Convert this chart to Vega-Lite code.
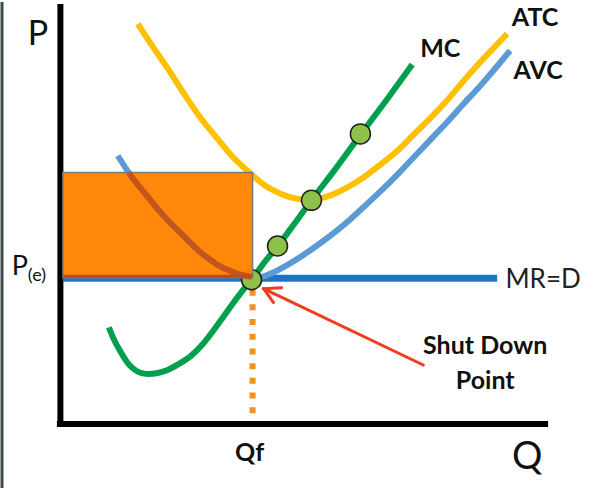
{
  "$schema": "https://vega.github.io/schema/vega-lite/v6.json",
  "width": 595,
  "height": 490,
  "autosize": {"type": "fit", "contains": "padding"},
  "padding": 0,
  "background": "white",
  "config": {"view": {"stroke": null}, "font": "Lato"},
  "datasets": {
    "curves": [
      {"curve": "ATC", "x": 137, "y": 468}, {"curve": "ATC", "x": 152, "y": 445}, {"curve": "ATC", "x": 167, "y": 423},
      {"curve": "ATC", "x": 183, "y": 398}, {"curve": "ATC", "x": 200, "y": 373}, {"curve": "ATC", "x": 217, "y": 352},
      {"curve": "ATC", "x": 233, "y": 333}, {"curve": "ATC", "x": 250, "y": 317}, {"curve": "ATC", "x": 263, "y": 306},
      {"curve": "ATC", "x": 273, "y": 300}, {"curve": "ATC", "x": 287, "y": 294}, {"curve": "ATC", "x": 300, "y": 291},
      {"curve": "ATC", "x": 311, "y": 290}, {"curve": "ATC", "x": 320, "y": 292}, {"curve": "ATC", "x": 330, "y": 295},
      {"curve": "ATC", "x": 345, "y": 302}, {"curve": "ATC", "x": 363, "y": 313}, {"curve": "ATC", "x": 380, "y": 326},
      {"curve": "ATC", "x": 397, "y": 340}, {"curve": "ATC", "x": 413, "y": 356}, {"curve": "ATC", "x": 430, "y": 373},
      {"curve": "ATC", "x": 447, "y": 391}, {"curve": "ATC", "x": 463, "y": 410}, {"curve": "ATC", "x": 477, "y": 426},
      {"curve": "ATC", "x": 490, "y": 440}, {"curve": "ATC", "x": 507, "y": 458},
      {"curve": "AVC", "x": 117, "y": 335}, {"curve": "AVC", "x": 130, "y": 315}, {"curve": "AVC", "x": 140, "y": 302},
      {"curve": "AVC", "x": 150, "y": 290}, {"curve": "AVC", "x": 158, "y": 280}, {"curve": "AVC", "x": 167, "y": 270},
      {"curve": "AVC", "x": 177, "y": 260}, {"curve": "AVC", "x": 187, "y": 250}, {"curve": "AVC", "x": 197, "y": 240},
      {"curve": "AVC", "x": 207, "y": 232}, {"curve": "AVC", "x": 217, "y": 225}, {"curve": "AVC", "x": 227, "y": 220},
      {"curve": "AVC", "x": 237, "y": 216}, {"curve": "AVC", "x": 245, "y": 213}, {"curve": "AVC", "x": 252, "y": 211},
      {"curve": "AVC", "x": 262, "y": 213}, {"curve": "AVC", "x": 272, "y": 217}, {"curve": "AVC", "x": 287, "y": 225},
      {"curve": "AVC", "x": 303, "y": 235}, {"curve": "AVC", "x": 320, "y": 247}, {"curve": "AVC", "x": 337, "y": 260},
      {"curve": "AVC", "x": 350, "y": 271}, {"curve": "AVC", "x": 363, "y": 283}, {"curve": "AVC", "x": 380, "y": 299},
      {"curve": "AVC", "x": 397, "y": 316}, {"curve": "AVC", "x": 413, "y": 333}, {"curve": "AVC", "x": 430, "y": 351},
      {"curve": "AVC", "x": 447, "y": 369}, {"curve": "AVC", "x": 463, "y": 387}, {"curve": "AVC", "x": 477, "y": 402},
      {"curve": "AVC", "x": 490, "y": 417}, {"curve": "AVC", "x": 500, "y": 429}, {"curve": "AVC", "x": 510, "y": 441},
      {"curve": "MC", "x": 108, "y": 162}, {"curve": "MC", "x": 114, "y": 148}, {"curve": "MC", "x": 120, "y": 137},
      {"curve": "MC", "x": 127, "y": 126}, {"curve": "MC", "x": 133, "y": 120}, {"curve": "MC", "x": 140, "y": 116},
      {"curve": "MC", "x": 147, "y": 115}, {"curve": "MC", "x": 157, "y": 116}, {"curve": "MC", "x": 167, "y": 119},
      {"curve": "MC", "x": 178, "y": 125}, {"curve": "MC", "x": 190, "y": 133}, {"curve": "MC", "x": 202, "y": 145},
      {"curve": "MC", "x": 213, "y": 159}, {"curve": "MC", "x": 223, "y": 173}, {"curve": "MC", "x": 233, "y": 187},
      {"curve": "MC", "x": 242, "y": 199}, {"curve": "MC", "x": 251, "y": 210}, {"curve": "MC", "x": 265, "y": 229},
      {"curve": "MC", "x": 278, "y": 245}, {"curve": "MC", "x": 295, "y": 268}, {"curve": "MC", "x": 311, "y": 290},
      {"curve": "MC", "x": 336, "y": 323}, {"curve": "MC", "x": 360, "y": 356}, {"curve": "MC", "x": 386, "y": 391},
      {"curve": "MC", "x": 412, "y": 427},
      {"curve": "AVC in area", "x": 128, "y": 318}, {"curve": "AVC in area", "x": 130, "y": 315}, {"curve": "AVC in area", "x": 140, "y": 302},
      {"curve": "AVC in area", "x": 150, "y": 290}, {"curve": "AVC in area", "x": 158, "y": 280}, {"curve": "AVC in area", "x": 167, "y": 270},
      {"curve": "AVC in area", "x": 177, "y": 260}, {"curve": "AVC in area", "x": 187, "y": 250}, {"curve": "AVC in area", "x": 197, "y": 240},
      {"curve": "AVC in area", "x": 207, "y": 232}, {"curve": "AVC in area", "x": 217, "y": 225}, {"curve": "AVC in area", "x": 227, "y": 220},
      {"curve": "AVC in area", "x": 237, "y": 216}, {"curve": "AVC in area", "x": 245, "y": 214}, {"curve": "AVC in area", "x": 251, "y": 213}
    ],
    "rules": [
      {"name": "edge", "x": 1, "y": 0, "x2": 1, "y2": 490},
      {"name": "axis", "x": 59.5, "y": 488, "x2": 59.5, "y2": 62},
      {"name": "axis", "x": 56, "y": 64.5, "x2": 548, "y2": 64.5},
      {"name": "MR=D", "x": 62, "y": 211.5, "x2": 497, "y2": 211.5},
      {"name": "Qf", "x": 252, "y": 200, "x2": 252, "y2": 75},
      {"name": "MR in area", "x": 62, "y": 213.5, "x2": 251, "y2": 213.5},
      {"name": "arrow", "x": 423, "y": 124, "x2": 263, "y2": 201},
      {"name": "arrow", "x": 263, "y": 201, "x2": 281, "y2": 202},
      {"name": "arrow", "x": 263, "y": 201, "x2": 273, "y2": 187}
    ],
    "area": [
      {"x": 62, "x2": 252, "y": 212, "y2": 318}
    ],
    "dots": [
      {"x": 251, "y": 210}, {"x": 277, "y": 244}, {"x": 311, "y": 290}, {"x": 360, "y": 357}
    ],
    "labels": [
      {"kind": "bold", "text": "ATC", "x": 535, "y": 466},
      {"kind": "bold", "text": "AVC", "x": 538, "y": 412},
      {"kind": "bold", "text": "MC", "x": 440, "y": 435},
      {"kind": "bold", "text": "Shut Down", "x": 485, "y": 135},
      {"kind": "bold", "text": "Point", "x": 485, "y": 100},
      {"kind": "bold", "text": "Qf", "x": 249, "y": 27},
      {"kind": "mr", "text": "MR=D", "x": 543, "y": 202},
      {"kind": "axisP", "text": "P", "x": 37, "y": 447},
      {"kind": "axisQ", "text": "Q", "x": 527, "y": 19},
      {"kind": "pe", "text": "P", "x": 19, "y": 215},
      {"kind": "sub", "text": "(e)", "x": 36, "y": 209}
    ]
  },
  "encoding": {
    "x": {"field": "x", "type": "quantitative", "scale": {"domain": [0, 595], "nice": false, "zero": false}, "axis": null},
    "y": {"field": "y", "type": "quantitative", "scale": {"domain": [0, 490], "nice": false, "zero": false}, "axis": null}
  },
  "layer": [
    {
      "data": {"name": "rules"},
      "transform": [{"filter": "datum.name == 'edge'"}],
      "mark": {"type": "rule", "color": "#3d4848", "strokeWidth": 3},
      "encoding": {"x2": {"field": "x2"}, "y2": {"field": "y2"}}
    },
    {
      "data": {"name": "rules"},
      "transform": [{"filter": "datum.name == 'axis'"}],
      "mark": {"type": "rule", "color": "#000000", "strokeWidth": 6},
      "encoding": {"x2": {"field": "x2"}, "y2": {"field": "y2"}}
    },
    {
      "data": {"name": "rules"},
      "transform": [{"filter": "datum.name == 'Qf'"}],
      "mark": {"type": "rule", "color": "#F4921E", "strokeWidth": 6, "strokeDash": [6, 8.7]},
      "encoding": {"x2": {"field": "x2"}, "y2": {"field": "y2"}}
    },
    {
      "data": {"name": "rules"},
      "transform": [{"filter": "datum.name == 'MR=D'"}],
      "mark": {"type": "rule", "color": "#1E74C6", "strokeWidth": 7},
      "encoding": {"x2": {"field": "x2"}, "y2": {"field": "y2"}}
    },
    {
      "data": {"name": "curves"},
      "transform": [{"filter": "datum.curve != 'AVC in area'"}],
      "mark": {"type": "line", "strokeWidth": 6, "interpolate": "monotone"},
      "encoding": {
        "color": {"field": "curve", "type": "nominal", "scale": {"domain": ["ATC", "AVC", "MC"], "range": ["#FFC000", "#5B9BD5", "#00A04E"]}, "legend": null}
      }
    },
    {
      "data": {"name": "dots"},
      "mark": {"type": "point", "filled": true, "size": 400, "fill": "#8DC24A", "stroke": "#1f1f1f", "strokeWidth": 1.5, "opacity": 1}
    },
    {
      "data": {"name": "area"},
      "mark": {"type": "rect", "fill": "#FF8200", "stroke": "#7a7a7a", "strokeWidth": 1.5, "fillOpacity": 0.96},
      "encoding": {"x2": {"field": "x2"}, "y2": {"field": "y2"}}
    },
    {
      "data": {"name": "curves"},
      "transform": [{"filter": "datum.curve == 'AVC in area'"}],
      "mark": {"type": "line", "strokeWidth": 6, "color": "#C2561E", "interpolate": "monotone"}
    },
    {
      "data": {"name": "rules"},
      "transform": [{"filter": "datum.name == 'MR in area'"}],
      "mark": {"type": "rule", "color": "#C04A1C", "strokeWidth": 3},
      "encoding": {"x2": {"field": "x2"}, "y2": {"field": "y2"}}
    },
    {
      "data": {"name": "rules"},
      "transform": [{"filter": "datum.name == 'arrow'"}],
      "mark": {"type": "rule", "color": "#F23C1A", "strokeWidth": 3, "strokeCap": "round"},
      "encoding": {"x2": {"field": "x2"}, "y2": {"field": "y2"}}
    },
    {
      "data": {"name": "labels"},
      "transform": [{"filter": "datum.kind == 'bold'"}],
      "mark": {"type": "text", "fontSize": 25, "fontWeight": "bold", "color": "#111111", "align": "center", "baseline": "alphabetic"},
      "encoding": {"text": {"field": "text"}}
    },
    {
      "data": {"name": "labels"},
      "transform": [{"filter": "datum.kind == 'mr'"}],
      "mark": {"type": "text", "fontSize": 26, "color": "#222222", "align": "center", "baseline": "alphabetic"},
      "encoding": {"text": {"field": "text"}}
    },
    {
      "data": {"name": "labels"},
      "transform": [{"filter": "datum.kind == 'axisP'"}],
      "mark": {"type": "text", "fontSize": 34, "color": "#111111", "align": "center", "baseline": "alphabetic"},
      "encoding": {"text": {"field": "text"}}
    },
    {
      "data": {"name": "labels"},
      "transform": [{"filter": "datum.kind == 'axisQ'"}],
      "mark": {"type": "text", "fontSize": 38, "color": "#111111", "align": "center", "baseline": "alphabetic"},
      "encoding": {"text": {"field": "text"}}
    },
    {
      "data": {"name": "labels"},
      "transform": [{"filter": "datum.kind == 'pe'"}],
      "mark": {"type": "text", "fontSize": 27, "color": "#111111", "align": "center", "baseline": "alphabetic"},
      "encoding": {"text": {"field": "text"}}
    },
    {
      "data": {"name": "labels"},
      "transform": [{"filter": "datum.kind == 'sub'"}],
      "mark": {"type": "text", "fontSize": 18, "color": "#111111", "align": "center", "baseline": "alphabetic"},
      "encoding": {"text": {"field": "text"}}
    }
  ]
}
